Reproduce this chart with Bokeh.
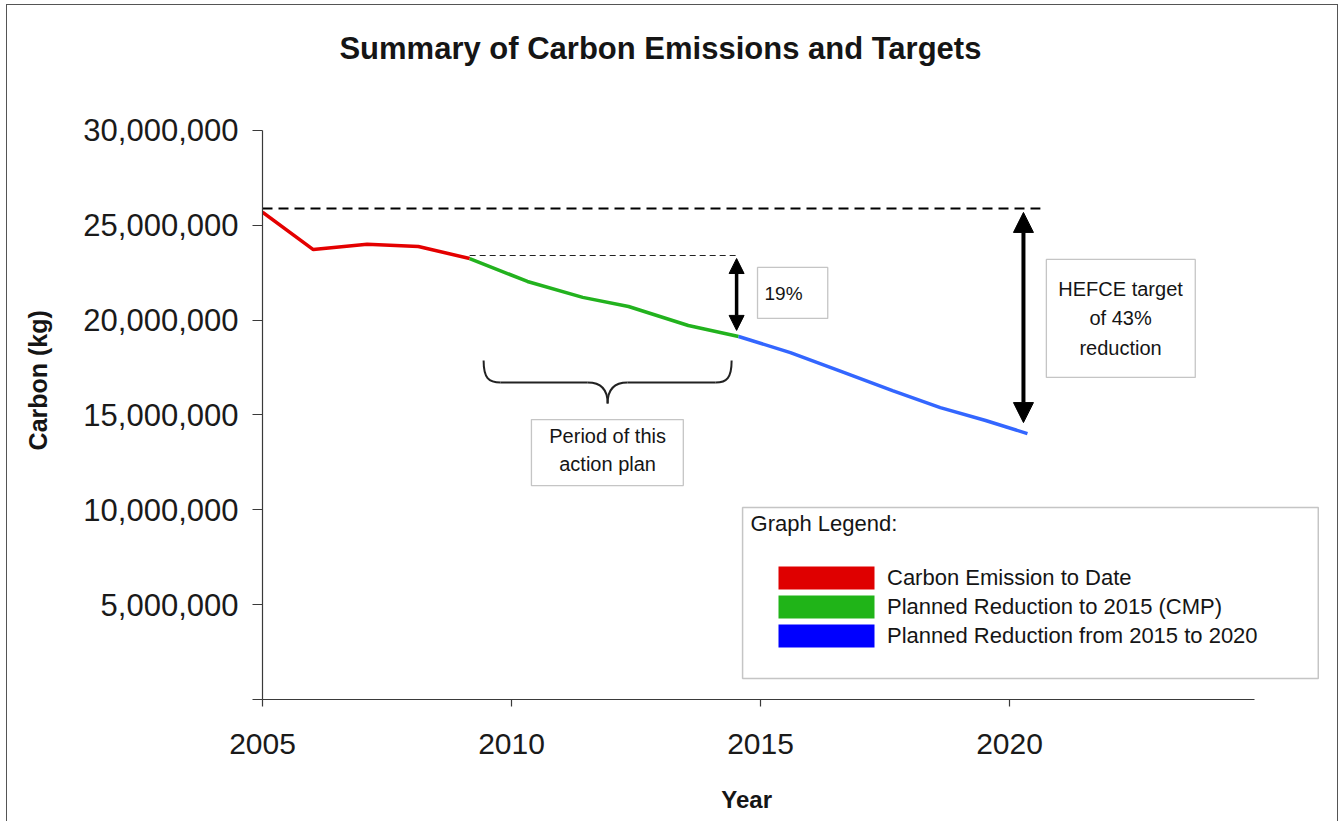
from bokeh.plotting import figure
from bokeh.models import (Range1d, FixedTicker, NumeralTickFormatter, Label, BoxAnnotation,
                          Arrow, NormalHead, Legend, LegendItem, ColumnDataSource)
from bokeh.embed import file_html
from bokeh.resources import INLINE

FONT = "Liberation Sans"

# ---------------- data ----------------
years_to_date = [2005.0, 2006.02, 2007.1, 2008.13, 2009.16]
carbon_to_date = [25_690_000, 23_720_000, 24_000_000, 23_880_000, 23_250_000]

years_cmp = [2009.16, 2010.32, 2011.43, 2012.35, 2013.55, 2014.56]
carbon_cmp = [23_250_000, 22_040_000, 21_200_000, 20_720_000, 19_720_000, 19_140_000]

years_2020 = [2014.56, 2015.60, 2016.63, 2017.65, 2018.61, 2019.52, 2020.36]
carbon_2020 = [19_140_000, 18_290_000, 17_290_000, 16_290_000, 15_390_000, 14_710_000, 14_020_000]

series_names = ["Carbon Emission to Date",
                "Planned Reduction to 2015 (CMP)",
                "Planned Reduction from 2015 to 2020"]
line_colors = ["#E40000", "#22B21E", "#3366FF"]
swatch_colors = ["#DF0000", "#20B418", "#0000FF"]

x_ticks = [2005, 2010, 2015, 2020]
y_ticks = [0, 5_000_000, 10_000_000, 15_000_000, 20_000_000, 25_000_000, 30_000_000]
x_axis_end = 2024.92
y_axis_end = 30_000_000

baseline_level = 25_890_000      # 2005 level (long dashed line)
cmp_start_level = 23_410_000     # start of action plan (short dashed line)
hefce_level = 14_600_000         # 43% reduction target

# ---------------- figure ----------------
p = figure(width=1330, height=816,
           x_range=Range1d(2005, 2026.586), y_range=Range1d(0, 36_590_000),
           output_backend="svg", toolbar_location=None, title=None,
           min_border_left=255, min_border_right=0,
           min_border_top=0, min_border_bottom=122)
p.styles = {"margin-left": "7px", "margin-top": "5px", "outline": "1px solid #555555"}
p.outline_line_color = None
p.grid.visible = False
p.background_fill_color = "white"
p.border_fill_color = "white"

# axes
p.xaxis.ticker = FixedTicker(ticks=x_ticks)
p.yaxis.ticker = FixedTicker(ticks=y_ticks)
p.xaxis.bounds = (2005, x_axis_end)
p.yaxis.bounds = (0, y_axis_end)
p.yaxis.formatter = NumeralTickFormatter(format="0,0")
p.yaxis.major_label_overrides = {0: ""}
for ax in (p.xaxis, p.yaxis):
    ax.axis_line_color = "#3a3a3a"
    ax.axis_line_width = 1.2
    ax.major_tick_line_color = "#3a3a3a"
    ax.major_tick_line_width = 1.2
    ax.minor_tick_line_color = None
    ax.major_tick_in = 0
    ax.major_label_text_font = FONT
    ax.major_label_text_color = "#1a1a1a"
    ax.axis_label_text_font = FONT
    ax.axis_label_text_font_style = "bold"
    ax.axis_label_text_color = "#151515"
p.xaxis.major_tick_out = 7
p.yaxis.major_tick_out = 10
p.xaxis.major_label_text_font_size = "30px"
p.yaxis.major_label_text_font_size = "31px"
p.xaxis.major_label_standoff = 27
p.yaxis.major_label_standoff = 14
# axis titles (trailing non-breaking spaces only shift the text to where the reference puts it)
p.xaxis.axis_label = "Year" + "\u00a0" * 16
p.xaxis.axis_label_text_font_size = "24px"
p.xaxis.axis_label_standoff = 29
p.yaxis.axis_label = "Carbon (kg)" + "\u00a0" * 8
p.yaxis.axis_label_text_font_size = "25px"
p.yaxis.axis_label_standoff = 28

# ---------------- reference dashed lines ----------------
p.line([years_to_date[0], 2020.62], [baseline_level, baseline_level],
       line_color="black", line_width=2, line_dash="10 6")
p.line([years_cmp[0], 2014.5], [cmp_start_level, cmp_start_level],
       line_color="#222222", line_width=1.2, line_dash="6 4")

# ---------------- data lines ----------------
p.line(years_to_date, carbon_to_date, line_color=line_colors[0], line_width=3.5)
p.line(years_cmp, carbon_cmp, line_color=line_colors[1], line_width=3.5)
p.line(years_2020, carbon_2020, line_color=line_colors[2], line_width=3.5)

# ---------------- arrows ----------------
p.add_layout(Arrow(x_start=2014.52, y_start=23_250_000, x_end=2014.52, y_end=19_460_000,
                   start=NormalHead(size=15, fill_color="black", line_color="black"),
                   end=NormalHead(size=15, fill_color="black", line_color="black"),
                   line_color="black", line_width=3.5))
p.add_layout(Arrow(x_start=2020.28, y_start=25_680_000, x_end=2020.28, y_end=hefce_level,
                   start=NormalHead(size=20, fill_color="black", line_color="black"),
                   end=NormalHead(size=20, fill_color="black", line_color="black"),
                   line_color="black", line_width=4))

# ---------------- text boxes ----------------
def text_box(l, r, b, t, lw=1.3):
    p.add_layout(BoxAnnotation(left=l, right=r, bottom=b, top=t,
                               fill_color="white", fill_alpha=1,
                               line_color="#404040", line_width=lw))

def txt(x, y, s, size="20px", align="center", style="normal", angle=0):
    p.add_layout(Label(x=x, y=y, text=s, text_font=FONT, text_font_size=size,
                       text_font_style=style, text_align=align, text_baseline="middle",
                       text_color="#151515", angle=angle))

text_box(2014.94, 2016.35, 20_090_000, 22_780_000)
txt(2015.08, 21_400_000, "19%", size="19px", align="left")

text_box(2020.74, 2023.73, 16_980_000, 23_200_000)
txt(2022.23, 21_620_000, "HEFCE target")
txt(2022.23, 20_090_000, "of 43%")
txt(2022.23, 18_510_000, "reduction")

text_box(2010.40, 2013.45, 11_280_000, 14_760_000)
txt(2011.93, 13_870_000, "Period of this")
txt(2011.93, 12_440_000, "action plan")

# ---------------- curly brace ----------------
bx0, bx1, bx2, bxm, bx3, bx4, bx5 = 2009.44, 2009.78, 2011.53, 2011.93, 2012.33, 2014.10, 2014.42
by_top, by_mid, by_tip = 17_870_000, 16_710_000, 15_610_000
p.bezier(x0=[bx0, bx1, bx2, bxm, bx3, bx4],
         y0=[by_top, by_mid, by_mid, by_tip, by_mid, by_mid],
         x1=[bx1, bx2, bxm, bx3, bx4, bx5],
         y1=[by_mid, by_mid, by_tip, by_mid, by_mid, by_top],
         cx0=[bx0, bx1, 2011.80, bxm, bx3, 2014.32],
         cy0=[16_950_000, by_mid, by_mid, 16_300_000, by_mid, by_mid],
         cx1=[2009.54, bx2, bxm, 2012.06, bx4, bx5],
         cy1=[by_mid, by_mid, 16_300_000, by_mid, by_mid, 16_950_000],
         line_color="#222222", line_width=2)

# ---------------- legend ----------------
text_box(2014.64, 2026.2, 1_107_000, 10_120_000, lw=1.5)
txt(2014.80, 9_280_000, "Graph Legend:", size="22px", align="left")

items = []
for name, col in zip(series_names, swatch_colors):
    src = ColumnDataSource(dict(left=[float("nan")], right=[float("nan")],
                                top=[float("nan")], bottom=[float("nan")]))
    r = p.quad(left="left", right="right", top="top", bottom="bottom", source=src,
               fill_color=col, line_color=None)
    items.append(LegendItem(label=name, renderers=[r]))
legend = Legend(items=items, location=(504, 49), glyph_width=120, glyph_height=29,
                spacing=0, padding=0, margin=0, label_standoff=1,
                label_text_font=FONT, label_text_font_size="22px", label_text_color="#151515",
                border_line_color=None, background_fill_alpha=0)
p.add_layout(legend)

# ---------------- chart title ----------------
txt(2012.99, 34_320_000, "Summary of Carbon Emissions and Targets", size="31px", style="bold")

open("out.html", "w").write(file_html(p, INLINE))
